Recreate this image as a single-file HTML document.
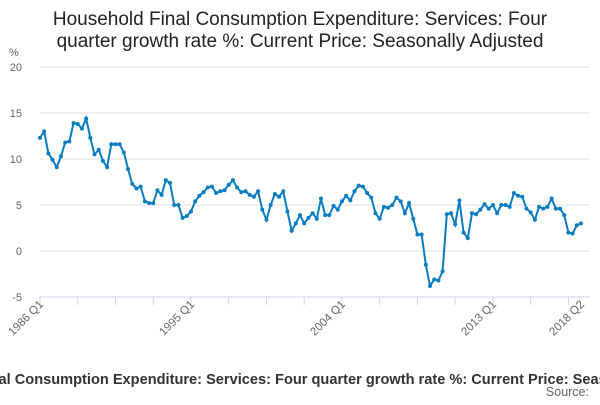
<!DOCTYPE html>
<html><head><meta charset="utf-8"><style>
body{margin:0;width:600px;height:400px;overflow:hidden;background:#fff;font-family:"Liberation Sans",sans-serif}
</style></head><body>
<svg width="600" height="400" id="c">
<text x="300" y="25" text-anchor="middle" font-size="19" fill="#222">Household Final Consumption Expenditure: Services: Four</text>
<text x="300" y="47" text-anchor="middle" font-size="19" fill="#222">quarter growth rate %: Current Price: Seasonally Adjusted</text>
<text x="9" y="56" font-size="11" fill="#666">%</text>
<g id="grid"></g><g id="xt"></g>
<path id="line" fill="none" stroke="#0a7cc0" stroke-width="2"/>
<g id="pts"></g>
<text x="306" y="384" text-anchor="middle" font-size="14.6" font-weight="bold" fill="#333">Household Final Consumption Expenditure: Services: Four quarter growth rate %: Current Price: Seasonally Adjusted</text>
<text x="589" y="396" text-anchor="end" font-size="12.5" fill="#666">Source:</text>
</svg>
<script>
const yTicks=[-5,0,5,10,15,20];
const xLabels=["1986 Q1","1995 Q1","2004 Q1","2013 Q1","2018 Q2"];
const xLabelIdx=[0,36,72,108,129];
const values=[12.3,13,10.6,9.9,9.1,10.3,11.8,11.9,13.9,13.8,13.3,14.4,12.3,10.5,11,9.8,9.1,11.6,11.6,11.6,10.7,8.9,7.3,6.8,7.0,5.4,5.2,5.2,6.6,6.1,7.7,7.4,5.0,5.0,3.6,3.8,
4.3,5.4,6.0,6.4,6.9,7.0,6.3,6.5,6.6,7.2,7.7,6.9,6.4,6.5,6.1,5.9,6.5,4.5,3.4,5.0,6.2,5.9,6.5,4.3,2.2,3.0,3.9,3.0,3.6,4.1,3.5,5.7,3.9,3.9,4.9,4.5,
5.4,6.0,5.5,6.5,7.1,7.0,6.3,5.8,4.1,3.5,4.8,4.7,5.0,5.8,5.4,4.1,5.2,3.5,1.8,1.8,-1.5,-3.8,-3.1,-3.2,-2.2,4.0,4.1,2.9,5.5,2.0,1.4,4.1,4.0,4.5,5.1,4.6,
5.0,4.1,5.0,5.0,4.8,6.3,6.0,5.9,4.6,4.2,3.4,4.8,4.6,4.8,5.7,4.6,4.6,3.9,2.0,1.9,2.8,3.0];
const X0=40,X1=581,Y0=251,PY=9.2;
const x=i=>X0+i*(X1-X0)/(values.length-1);
const y=v=>Y0-v*PY;
const NS="http://www.w3.org/2000/svg";
const mk=(t,a,p)=>{const e=document.createElementNS(NS,t);for(const k in a)e.setAttribute(k,a[k]);p.appendChild(e);return e;};
const g=document.getElementById('grid');
yTicks.forEach(v=>{
 const l=mk('line',{x1:40,x2:590,y1:y(v),y2:y(v),stroke:'#e0e0e0'},g);
 
 
 const t=mk('text',{x:22,y:y(v)+4,'text-anchor':'end','font-size':11,fill:'#666'},g);
 t.textContent=v;
 
 
});
const xt=document.getElementById('xt');
const ax=mk('line',{x1:40,x2:590,y1:297,y2:297,stroke:'#ccd6eb'},xt);


for(let i=0;i<values.length;i+=9){
 const tk=mk('line',{x1:x(i),x2:x(i),y1:297,y2:305,stroke:'#ccd6eb'},xt);
 
 
}
xLabels.forEach((s,k)=>{
 const px=x(xLabelIdx[k]);
 const t=mk('text',{x:px+4,y:305,'text-anchor':'end','font-size':11.5,fill:'#666',transform:`rotate(-45 ${px+4} 305)`},xt);
 t.textContent=s;
 
 
});
document.getElementById('line').setAttribute('d',values.map((v,i)=>(i?'L':'M')+x(i)+','+y(v)).join(''));
const pg=document.getElementById('pts');
values.forEach((v,i)=>{
 const c=mk('circle',{cx:x(i),cy:y(v),r:2,fill:'#0a7cc0'},pg);
 
 
});
</script>
</body></html>
